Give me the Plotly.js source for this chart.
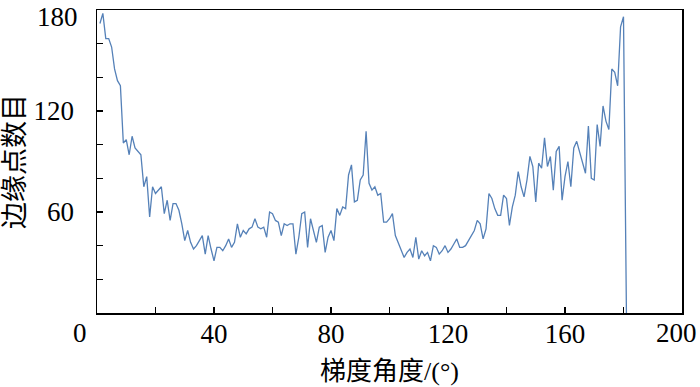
<!DOCTYPE html>
<html>
<head>
<meta charset="utf-8">
<script src="https://cdn.plot.ly/plotly-3.0.1.min.js"></script>
<style>
  html, body { margin: 0; padding: 0; background: #fff; }
  #chart { width: 700px; height: 387px; }
</style>
</head>
<body>
<div id="chart"></div>
<script>
// Gradient angle (degrees)
const angles = [
  1,2,3,4,5,6,7,8,9,10,11,12,13,14,15,16,17,18,19,20,
  21,22,23,24,25,26,27,28,29,30,31,32,33,34,35,36,37,38,39,40,
  41,42,43,44,45,46,47,48,49,50,51,52,53,54,55,56,57,58,59,60,
  61,62,63,64,65,66,67,68,69,70,71,72,73,74,75,76,77,78,79,80,
  81,82,83,84,85,86,87,88,89,90,91,92,93,94,95,96,97,98,99,100,
  101,102,103,104,105,106,107,108,109,110,111,112,113,114,115,116,117,118,119,120,
  121,122,123,124,125,126,127,128,129,130,131,132,133,134,135,136,137,138,139,140,
  141,142,143,144,145,146,147,148,149,150,151,152,153,154,155,156,157,158,159,160,
  161,162,163,164,165,166,167,168,169,170,171,172,173,174,175,176,177,178,179,180,
  181
];
// Edge point counts
const edgeCounts = [
  172,178,163,163,158,145,138,135,101,103,94,105,98,96,94,75,81,57,75,71,
  73,75,59,67,55,65,65,61,53,43,49,42,38,40,43,46,35,46,38,31,
  39,39,37,40,44,39,42,53,45,49,47,50,51,56,51,50,51,45,60,59,
  55,54,46,53,52,53,53,35,45,59,60,39,56,49,42,51,52,36,45,49,
  43,62,58,63,62,82,88,66,67,79,82,108,77,73,75,70,71,54,54,56,
  59,46,42,38,33,36,38,33,45,32,37,34,36,31,40,39,35,37,40,36,
  38,41,44,39,39,40,43,46,49,55,53,44,50,71,68,62,58,58,70,68,
  52,63,70,84,75,69,79,93,87,66,89,86,104,87,93,73,96,99,67,81,
  90,75,98,102,96,90,83,111,80,79,112,99,123,114,109,145,143,135,170,176,
  0
];
const xTickVals = [0,20,40,60,80,100,120,140,160,180,200];
const xTickText = ['','','40','','80','','120','','160','',''];
const yTickVals = [0,20,40,60,80,100,120,140,160,180];
const yTickText = ['','','','60','','','120','','',''];
const xTitle = '梯度角度/(°)';
const yTitle = '边缘点数目';
const cornerLabel = '0';
const xEndLabel = '200';
const yEndLabel = '180';

const fontFam = '"Liberation Serif", "Times New Roman", "Noto Sans CJK SC", serif';
const tf = { family: fontFam, size: 27, color: '#000' };

const trace = {
  x: angles,
  y: edgeCounts,
  type: 'scatter',
  mode: 'lines',
  line: { color: '#5581b8', width: 1.3 },
  hoverinfo: 'skip'
};

const layout = {
  width: 700,
  height: 387,
  margin: { l: 97, r: 18, t: 10, b: 74 },
  paper_bgcolor: '#ffffff',
  plot_bgcolor: '#ffffff',
  showlegend: false,
  font: tf,
  xaxis: {
    range: [0, 200],
    tickvals: xTickVals,
    ticktext: xTickText,
    ticks: 'inside',
    ticklen: 6,
    tickwidth: 1.5,
    tickcolor: '#000',
    showline: true,
    linecolor: '#000',
    linewidth: 1.5,
    mirror: true,
    showgrid: false,
    zeroline: false,
    ticklabelstandoff: -4,
    tickfont: tf,
    title: { text: xTitle, font: { family: fontFam, size: 26, color: '#000' }, standoff: 14 }
  },
  yaxis: {
    range: [0, 180],
    tickvals: yTickVals,
    ticktext: yTickText,
    ticks: 'inside',
    ticklen: 6,
    tickwidth: 1.5,
    tickcolor: '#000',
    showline: true,
    linecolor: '#000',
    linewidth: 1.5,
    mirror: true,
    showgrid: false,
    zeroline: false,
    ticklabelstandoff: 16,
    tickfont: tf,
    title: { text: yTitle, font: { family: fontFam, size: 27, color: '#000' }, standoff: 6 }
  },
  annotations: [
    {
      text: cornerLabel,
      x: 0, xref: 'x', xanchor: 'center', xshift: -17,
      y: 0, yref: 'paper', yanchor: 'middle', yshift: -20,
      showarrow: false, font: tf
    },
    {
      text: xEndLabel,
      x: 200, xref: 'x', xanchor: 'right', xshift: 17,
      y: 0, yref: 'paper', yanchor: 'middle', yshift: -20,
      showarrow: false, font: tf
    },
    {
      text: yEndLabel,
      x: 0, xref: 'paper', xanchor: 'right', xshift: -17,
      y: 180, yref: 'y', yanchor: 'top', yshift: 10,
      showarrow: false, font: tf
    }
  ]
};

Plotly.newPlot('chart', [trace], layout, { staticPlot: true, displayModeBar: false });
</script>
</body>
</html>
